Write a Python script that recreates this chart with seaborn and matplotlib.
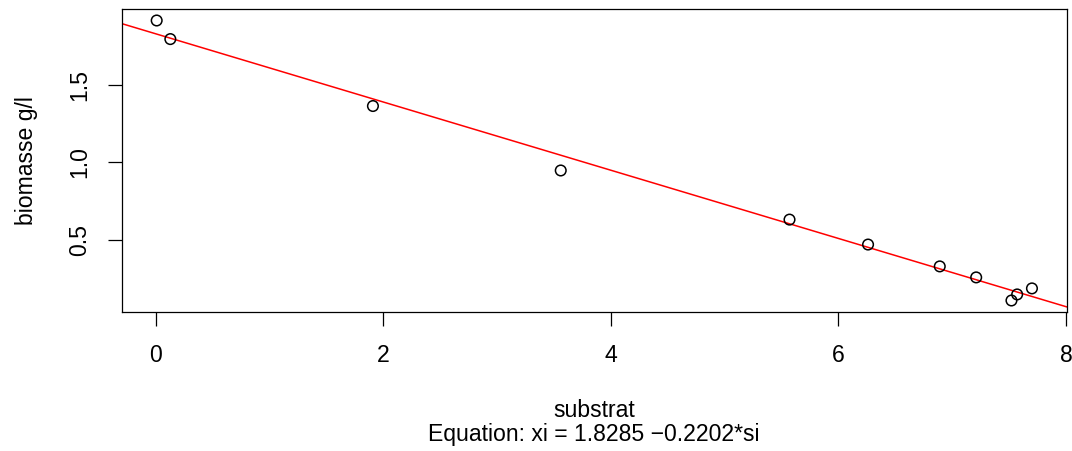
import matplotlib
matplotlib.use("Agg")
import matplotlib.pyplot as plt
import seaborn as sns
import pandas as pd

# Data
substrat = [0.01, 0.13, 1.91, 3.56, 5.57, 6.26, 6.89, 7.21, 7.52, 7.57, 7.70]
biomasse = [1.914, 1.794, 1.362, 0.946, 0.629, 0.468, 0.327, 0.256, 0.107, 0.146, 0.185]
intercept = 1.8285
slope = -0.2202
x_ticks = [0, 2, 4, 6, 8]
y_ticks = [0.5, 1.0, 1.5]

df = pd.DataFrame({"substrat": substrat, "biomasse": biomasse})

FS = 16.6

sns.set_theme(style="ticks")
plt.rcParams["font.family"] = ["Liberation Sans", "DejaVu Sans"]
plt.rcParams["font.size"] = FS

fig = plt.figure(figsize=(10.72, 4.51), dpi=100)
ax = fig.add_axes([0.1135, 0.3089, 0.9953 - 0.1135, 0.9794 - 0.3089])

sns.scatterplot(data=df, x="substrat", y="biomasse", ax=ax,
                facecolor="none", edgecolor="black", linewidth=1.1, s=58,
                marker="o", zorder=3)
ax.axline((0, intercept), slope=slope, color="red", linewidth=1.1, zorder=2)

xr = max(substrat) - min(substrat)
yr = max(biomasse) - min(biomasse)
ax.set_xlim(min(substrat) - 0.04 * xr, max(substrat) + 0.04 * xr)
ax.set_ylim(min(biomasse) - 0.04 * yr, max(biomasse) + 0.04 * yr)

ax.set_xticks(x_ticks)
ax.set_xticklabels([str(v) for v in x_ticks])
ax.set_yticks(y_ticks)
ax.set_yticklabels([f"{v:.1f}" for v in y_ticks], rotation=90, va="center")

ax.tick_params(axis="both", direction="out", length=10, width=0.9,
               color="black", labelsize=FS, labelcolor="black")
ax.tick_params(axis="x", pad=13)
ax.tick_params(axis="y", pad=12)
for sp in ax.spines.values():
    sp.set_visible(True)
    sp.set_color("black")
    sp.set_linewidth(0.9)

ax.set_xlabel("")
ax.set_ylabel("biomasse g/l", fontsize=FS, color="black", va="center")
ax.yaxis.set_label_coords(-0.1005, 0.5)

fig.text(0.5540, 1 - 417 / 451, "substrat", ha="center", va="baseline",
         fontsize=FS, color="black")
fig.text(0.5540, 1 - 441.5 / 451, "Equation: xi = 1.8285 \u22120.2202*si",
         ha="center", va="baseline", fontsize=FS, color="black")

fig.savefig("out.png", dpi=100, facecolor="white")
